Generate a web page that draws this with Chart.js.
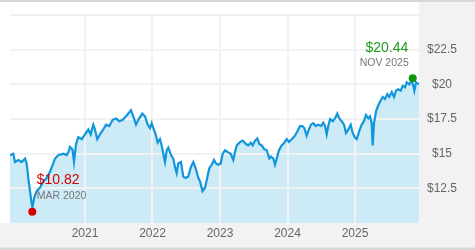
<!DOCTYPE html>
<html lang="en">
<head>
  <meta charset="UTF-8" />
  <title>Price history</title>
  <style>
    html, body { margin: 0; padding: 0; background: #fff; }
    .chart-box { width: 475px; height: 250px; position: relative; }
  </style>
</head>
<body>
  <div class="chart-box"><canvas id="priceChart"></canvas></div>

  <script src="https://cdn.jsdelivr.net/npm/chart.js@4.4.1/dist/chart.umd.min.js"></script>
  <script>
    // dates as decimal years, prices in dollars
    const dates = [
      2019.889, 2019.938, 2019.963, 2020.012, 2020.062, 2020.111, 2020.136, 2020.160, 2020.185, 2020.210,
      2020.222, 2020.249, 2020.284, 2020.333, 2020.382, 2020.433, 2020.481, 2020.530, 2020.556, 2020.604,
      2020.679, 2020.729, 2020.753, 2020.778, 2020.815, 2020.837, 2020.867, 2020.901, 2020.951, 2021.000,
      2021.049, 2021.084, 2021.123, 2021.148, 2021.182, 2021.222, 2021.271, 2021.311, 2021.360, 2021.410,
      2021.459, 2021.508, 2021.559, 2021.607, 2021.641, 2021.681, 2021.716, 2021.756, 2021.790, 2021.849,
      2021.889, 2021.929, 2021.963, 2021.988, 2022.012, 2022.047, 2022.077, 2022.111, 2022.136, 2022.160,
      2022.185, 2022.210, 2022.234, 2022.274, 2022.308, 2022.333, 2022.358, 2022.382, 2022.422, 2022.456,
      2022.492, 2022.530, 2022.570, 2022.604, 2022.640, 2022.679, 2022.704, 2022.741, 2022.778, 2022.803,
      2022.841, 2022.877, 2022.911, 2022.941, 2022.975, 2023.010, 2023.040, 2023.074, 2023.123, 2023.159,
      2023.197, 2023.222, 2023.247, 2023.286, 2023.336, 2023.385, 2023.419, 2023.455, 2023.484, 2023.519,
      2023.553, 2023.582, 2023.618, 2023.652, 2023.692, 2023.730, 2023.756, 2023.790, 2023.815, 2023.840,
      2023.874, 2023.914, 2023.953, 2023.988, 2024.022, 2024.062, 2024.111, 2024.160, 2024.185, 2024.219,
      2024.249, 2024.284, 2024.308, 2024.348, 2024.382, 2024.418, 2024.456, 2024.496, 2024.530, 2024.556,
      2024.581, 2024.604, 2024.630, 2024.670, 2024.704, 2024.738, 2024.767, 2024.803, 2024.837, 2024.867,
      2024.901, 2024.936, 2024.966, 2025.000, 2025.025, 2025.064, 2025.099, 2025.133, 2025.163, 2025.197,
      2025.222, 2025.247, 2025.262, 2025.281, 2025.311, 2025.345, 2025.381, 2025.410, 2025.444, 2025.479,
      2025.508, 2025.544, 2025.578, 2025.607, 2025.641, 2025.677, 2025.707, 2025.741, 2025.766, 2025.804,
      2025.840, 2025.864, 2025.879, 2025.904, 2025.948
    ];
    const prices = [
      14.9, 15.0, 14.4, 14.55, 14.4, 14.65, 14.3, 13.25, 12.3, 11.4,
      11.1, 11.85, 12.3, 12.55, 13.0, 13.25, 13.7, 14.3, 14.65, 14.9,
      15.0, 14.9, 15.1, 15.5, 15.3, 14.4, 15.7, 16.2, 16.05, 16.4,
      16.75, 16.4, 17.1, 16.75, 16.05, 16.4, 16.75, 17.1, 17.0, 17.45,
      17.55, 17.35, 17.45, 17.7, 17.9, 18.15, 17.7, 17.1, 17.45, 17.9,
      17.7, 17.1, 16.85, 17.2, 16.85, 16.4, 15.8, 16.05, 15.6, 15.0,
      14.4, 15.25, 15.45, 14.9, 14.65, 14.05, 13.6, 14.3, 14.4, 13.35,
      13.25, 13.35, 14.05, 14.4, 13.95, 13.25, 13.0, 12.3, 12.55, 13.1,
      13.95, 14.2, 14.55, 14.3, 14.2, 14.3, 15.0, 15.25, 15.1, 15.0,
      14.55, 15.1, 15.6, 15.8, 15.95, 15.7, 15.6, 15.8, 15.6, 15.95,
      16.1, 15.7, 15.6, 15.35, 15.25, 14.65, 14.8, 14.65, 14.2, 14.65,
      15.25, 15.6, 15.8, 16.05, 15.85, 16.05, 16.3, 16.75, 17.0, 17.0,
      16.85, 16.3, 16.65, 17.1, 17.2, 17.0, 17.1, 17.0, 17.25, 17.0,
      16.4, 17.0, 17.5, 17.35, 17.55, 17.9, 17.55, 17.35, 17.1, 16.5,
      16.75, 17.1, 16.5, 16.15, 16.05, 16.65, 17.1, 17.35, 17.8, 17.55,
      17.7, 17.2, 15.6, 17.2, 18.05, 18.5, 18.85, 19.1, 18.95, 19.3,
      19.1, 19.45, 19.1, 19.55, 19.65, 19.55, 19.9, 19.8, 20.15, 20.0,
      20.25, 19.9, 19.55, 20.15, 20.0
    ];

    const lowPoint = { t: 2020.219, price: 10.82, label: 'MAR 2020' };
    const highPoint = { t: 2025.855, price: 20.44, label: 'NOV 2025' };

    const xTickYears = [2021, 2022, 2023, 2024, 2025];
    const yTickValues = [12.5, 15, 17.5, 20, 22.5, 25];
    const yLabelValues = [12.5, 15, 17.5, 20, 22.5];

    const series = dates.map((t, i) => ({ x: t, y: prices[i] }));

    const LINE_BLUE = '#1196dc';
    const FILL_BLUE = '#cdeaf7';
    const GRID = '#f2f2f2';
    const PANEL = '#f2f2f2';

    // gray panels behind the axes, thin darker bars at top and bottom
    const panelPlugin = {
      id: 'panels',
      beforeDraw(chart) {
        const { ctx, width, height, chartArea } = chart;
        ctx.save();
        ctx.fillStyle = '#fff';
        ctx.fillRect(0, 0, width, height);
        ctx.fillStyle = PANEL;
        ctx.fillRect(chartArea.right, 0, width - chartArea.right, height);
        ctx.fillRect(0, chartArea.bottom, width, height - chartArea.bottom);
        ctx.fillStyle = '#d7d7d7';
        ctx.fillRect(0, 0, width, 2);
        ctx.fillRect(0, height - 2.5, width, 2.5);
        ctx.restore();
      },
      // grid lines sit on top of the light fill, under the line
      afterDatasetDraw(chart, args) {
        if (args.index !== 0) return;
        chart.scales.x.drawGrid(chart.chartArea);
        chart.scales.y.drawGrid(chart.chartArea);
      },
      afterDatasetsDraw(chart) {
        const { ctx, scales } = chart;
        const lx = scales.x.getPixelForValue(lowPoint.t);
        const ly = scales.y.getPixelForValue(lowPoint.price);
        const hx = scales.x.getPixelForValue(highPoint.t);
        const hy = scales.y.getPixelForValue(highPoint.price);
        ctx.save();
        ctx.textBaseline = 'middle';

        ctx.textAlign = 'left';
        ctx.font = '14px "Liberation Sans", Arial, sans-serif';
        ctx.fillStyle = '#d20000';
        ctx.fillText('$' + lowPoint.price.toFixed(2), lx + 4.5, ly - 31);
        ctx.font = '10.5px "Liberation Sans", Arial, sans-serif';
        ctx.fillStyle = '#777';
        ctx.fillText(lowPoint.label, lx + 4.5, ly - 16);

        ctx.textAlign = 'right';
        ctx.font = '14px "Liberation Sans", Arial, sans-serif';
        ctx.fillStyle = '#1f9a1f';
        ctx.fillText('$' + highPoint.price.toFixed(2), hx - 4.5, hy - 30);
        ctx.font = '10.5px "Liberation Sans", Arial, sans-serif';
        ctx.fillStyle = '#777';
        ctx.fillText(highPoint.label, hx - 4, hy - 15.5);
        ctx.restore();
      }
    };

    const ctx = document.getElementById('priceChart').getContext('2d');
    new Chart(ctx, {
      type: 'line',
      data: {
        datasets: [
          {
            data: series,
            borderWidth: 0,
            pointRadius: 0,
            fill: 'start',
            backgroundColor: FILL_BLUE,
            order: 3
          },
          {
            data: series,
            borderColor: LINE_BLUE,
            borderWidth: 2.2,
            pointRadius: 0,
            fill: false,
            tension: 0,
            order: 2
          },
          {
            data: [{ x: lowPoint.t, y: lowPoint.price }],
            showLine: false,
            pointRadius: 4,
            pointBackgroundColor: '#d40000',
            pointBorderWidth: 0,
            order: 1
          },
          {
            data: [{ x: highPoint.t, y: highPoint.price }],
            showLine: false,
            pointRadius: 4,
            pointBackgroundColor: '#0e960e',
            pointBorderWidth: 0,
            order: 1
          }
        ]
      },
      options: {
        responsive: true,
        maintainAspectRatio: false,
        animation: false,
        layout: { padding: { left: 10, top: 10, right: 0, bottom: 0 } },
        plugins: {
          legend: { display: false },
          tooltip: { enabled: false }
        },
        scales: {
          x: {
            type: 'linear',
            min: 2019.889,
            max: 2025.948,
            afterBuildTicks: scale => { scale.ticks = xTickYears.map(v => ({ value: v })); },
            afterFit: scale => { scale.height = 27; },
            grid: { color: GRID, lineWidth: 2, drawTicks: false },
            border: { display: false },
            ticks: {
              padding: 3,
              color: '#666',
              font: { family: '"Liberation Sans", Arial, sans-serif', size: 12 },
              callback: v => String(v)
            }
          },
          y: {
            position: 'right',
            min: 10,
            max: 25,
            afterBuildTicks: scale => { scale.ticks = yTickValues.map(v => ({ value: v })); },
            afterFit: scale => { scale.width = 56; },
            grid: { color: GRID, lineWidth: 2, drawTicks: false },
            border: { display: false },
            ticks: {
              padding: 8,
              crossAlign: 'center',
              color: '#666',
              font: { family: '"Liberation Sans", Arial, sans-serif', size: 12 },
              callback: v => yLabelValues.includes(v) ? '$' + v : ''
            }
          }
        }
      },
      plugins: [panelPlugin]
    });
  </script>
</body>
</html>
